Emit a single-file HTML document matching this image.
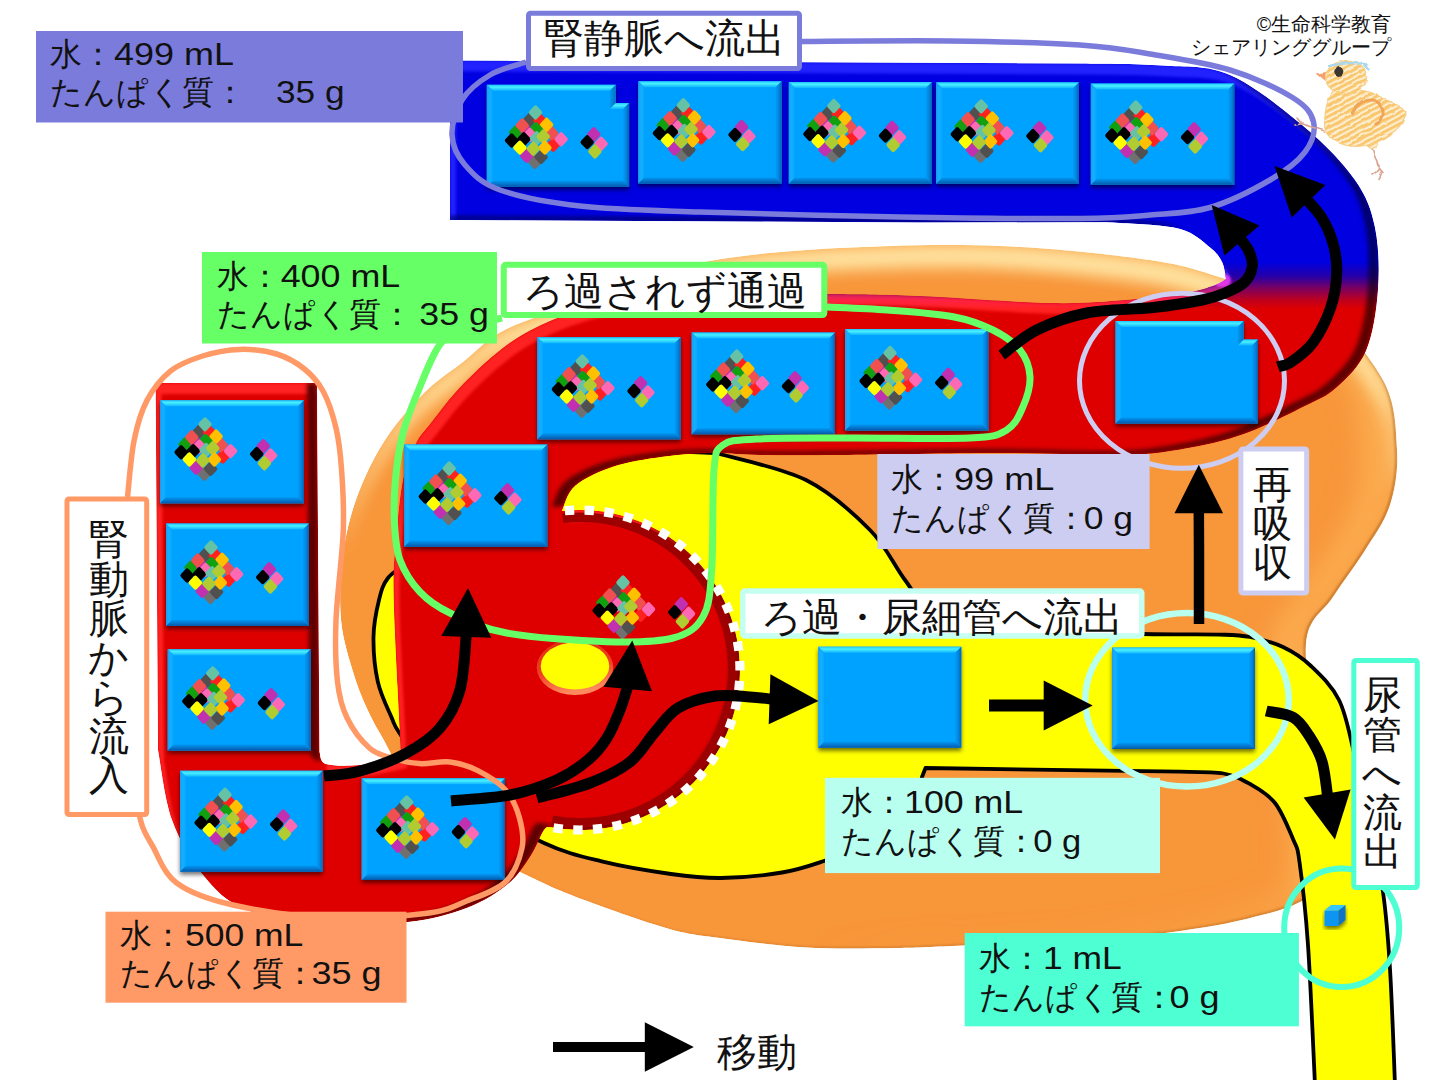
<!DOCTYPE html>
<html lang="ja"><head><meta charset="utf-8"><title>腎臓のろ過と再吸収</title>
<style>
html,body{margin:0;padding:0;background:#fff;}
body{width:1439px;height:1080px;overflow:hidden;font-family:"Liberation Sans",sans-serif;}
svg{display:block;}
text{font-family:"Liberation Sans",sans-serif;fill:#111;}
</style></head>
<body>
<svg width="1439" height="1080" viewBox="0 0 1439 1080">
<defs>
<linearGradient id="vg" gradientUnits="userSpaceOnUse" x1="0" y1="262" x2="0" y2="309"><stop offset="0" stop-color="#0000E0"/><stop offset="0.3" stop-color="#2400A8"/><stop offset="0.55" stop-color="#780062"/><stop offset="0.8" stop-color="#BC0020"/><stop offset="1" stop-color="#DE0000"/></linearGradient>
<linearGradient id="bt" gradientUnits="userSpaceOnUse" x1="0" y1="0" x2="0" y2="6"><stop offset="0" stop-color="#22C4FF"/><stop offset="0.4" stop-color="#48F0FF"/><stop offset="1" stop-color="#10B4FF"/></linearGradient>
<linearGradient id="bl" gradientUnits="userSpaceOnUse" x1="0" y1="0" x2="6" y2="0"><stop offset="0" stop-color="#1E9CF0"/><stop offset="0.5" stop-color="#14B0FF"/><stop offset="1" stop-color="#04A6FF"/></linearGradient>
<linearGradient id="br" gradientUnits="userSpaceOnUse" x1="0" y1="0" x2="-6" y2="0"><stop offset="0" stop-color="#0462B4"/><stop offset="0.5" stop-color="#0486E0"/><stop offset="1" stop-color="#029CF6"/></linearGradient>
<linearGradient id="brn" gradientUnits="userSpaceOnUse" x1="0" y1="0" x2="-6" y2="0"><stop offset="0" stop-color="#0470C4"/><stop offset="1" stop-color="#0298F2"/></linearGradient>
<linearGradient id="bb" gradientUnits="userSpaceOnUse" x1="0" y1="0" x2="0" y2="-6"><stop offset="0" stop-color="#0458A8"/><stop offset="0.5" stop-color="#0478D0"/><stop offset="1" stop-color="#0296F0"/></linearGradient>
<linearGradient id="ovg" x1="0" y1="0" x2="0.25" y2="1"><stop offset="0" stop-color="#E02A10"/><stop offset="0.6" stop-color="#F04020"/><stop offset="1" stop-color="#FF8A5E"/></linearGradient>
<linearGradient id="og" gradientUnits="userSpaceOnUse" x1="0" y1="245" x2="0" y2="950"><stop offset="0" stop-color="#F99A3C"/><stop offset="1" stop-color="#F8963A"/></linearGradient>
<filter id="bevel" filterUnits="userSpaceOnUse" x="0" y="0" width="1439" height="1080" color-interpolation-filters="sRGB">
<feOffset in="SourceAlpha" dx="-10.5" dy="-4" result="o1"/>
<feComposite in="SourceAlpha" in2="o1" operator="out" result="m1"/>
<feGaussianBlur in="m1" stdDeviation="2" result="mb1"/>
<feComponentTransfer in="SourceGraphic" result="dark"><feFuncR type="linear" slope="0.42"/><feFuncG type="linear" slope="0.42"/><feFuncB type="linear" slope="0.48"/></feComponentTransfer>
<feComposite in="dark" in2="mb1" operator="in" result="shade"/>
<feOffset in="SourceAlpha" dx="5.5" dy="10.5" result="o2"/>
<feComposite in="SourceAlpha" in2="o2" operator="out" result="m2"/>
<feGaussianBlur in="m2" stdDeviation="1.6" result="mb2"/>
<feComponentTransfer in="SourceGraphic" result="bright"><feFuncR type="linear" slope="1.15" intercept="0.135"/><feFuncG type="linear" slope="1.15" intercept="0.135"/><feFuncB type="linear" slope="1.15" intercept="0.135"/></feComponentTransfer>
<feComposite in="bright" in2="mb2" operator="in" result="hi"/>
<feMerge result="mm"><feMergeNode in="SourceGraphic"/><feMergeNode in="hi"/><feMergeNode in="shade"/></feMerge>
<feComposite in="mm" in2="SourceAlpha" operator="in"/>
</filter>
<filter id="obevel" filterUnits="userSpaceOnUse" x="0" y="0" width="1439" height="1080" color-interpolation-filters="sRGB">
<feOffset in="SourceAlpha" dx="-4" dy="22" result="o2"/>
<feComposite in="SourceAlpha" in2="o2" operator="out" result="m2"/>
<feGaussianBlur in="m2" stdDeviation="8" result="mb2"/>
<feFlood flood-color="#FFE9A8" flood-opacity="1"/><feComposite in2="mb2" operator="in" result="hi"/>
<feOffset in="SourceAlpha" dx="-34" dy="0" result="o3"/>
<feComposite in="SourceAlpha" in2="o3" operator="out" result="m3"/>
<feGaussianBlur in="m3" stdDeviation="14" result="mb3"/>
<feFlood flood-color="#FFC266" flood-opacity="0.55"/><feComposite in2="mb3" operator="in" result="hi2"/>
<feOffset in="SourceAlpha" dx="-1.6" dy="-1.2" result="o1"/>
<feComposite in="SourceAlpha" in2="o1" operator="out" result="m1"/>
<feGaussianBlur in="m1" stdDeviation="0.8" result="mb1"/>
<feFlood flood-color="#8A4A10" flood-opacity="0.55"/><feComposite in2="mb1" operator="in" result="shade"/>
<feMerge result="mm"><feMergeNode in="SourceGraphic"/><feMergeNode in="hi2"/><feMergeNode in="hi"/><feMergeNode in="shade"/></feMerge>
<feComposite in="mm" in2="SourceAlpha" operator="in"/>
</filter>
<filter id="bshadow" x="-10%" y="-10%" width="120%" height="125%"><feDropShadow dx="0" dy="3" stdDeviation="2.2" flood-color="#000" flood-opacity="0.55"/></filter>
<filter id="soft" x="-20%" y="-20%" width="140%" height="140%"><feGaussianBlur stdDeviation="1.2"/></filter>
<filter id="rough" x="-10%" y="-10%" width="120%" height="120%"><feTurbulence type="fractalNoise" baseFrequency="0.09" numOctaves="2" seed="4" result="n"/><feDisplacementMap in="SourceGraphic" in2="n" scale="3.5" xChannelSelector="R" yChannelSelector="G"/></filter>
<pattern id="scrib" width="5" height="5" patternUnits="userSpaceOnUse" patternTransform="rotate(-28)"><rect width="5" height="5" fill="#FDEED0"/><rect width="5" height="2.8" fill="#F9C66C"/></pattern>
<clipPath id="vclip"><path d="M155.6,383 L317,383 L319.5,752 C320.6,754.0 319.2,761.8 326.0,764.0 C332.8,766.2 347.5,766.2 360.0,765.0 C372.5,763.8 394.2,758.3 401.0,757.0 C400.4,745.3 398.8,714.8 397.5,687.0 C396.2,659.2 393.8,614.5 393.5,590.0 C393.2,565.5 394.4,558.3 396.0,540.0 C397.6,521.7 399.7,496.0 403.0,480.0 C406.3,464.0 411.1,453.3 415.6,444.0 C420.1,434.7 422.1,434.0 430.0,424.0 C437.9,414.0 450.0,397.3 463.0,384.0 C476.0,370.7 493.2,354.7 508.0,344.0 C522.8,333.3 536.7,326.5 552.0,320.0 C567.3,313.5 583.7,308.7 600.0,305.0 C616.3,301.3 633.3,299.7 650.0,298.0 C666.7,296.3 670.0,295.7 700.0,295.0 C730.0,294.3 793.3,293.8 830.0,294.0 C866.7,294.2 883.3,294.5 920.0,296.0 C956.7,297.5 1015.8,302.3 1050.0,303.0 C1084.2,303.7 1102.5,301.7 1125.0,300.0 C1147.5,298.3 1170.0,295.5 1185.0,293.0 C1200.0,290.5 1208.2,287.3 1215.0,285.0 C1221.8,282.7 1224.2,280.0 1226.0,279.0 C1225.3,276.2 1224.7,267.2 1222.0,262.0 C1219.3,256.8 1217.0,253.0 1210.0,247.5 C1203.0,242.0 1195.0,233.1 1180.0,229.0 C1165.0,224.9 1136.7,224.1 1120.0,223.0 C1103.3,221.9 1086.7,222.4 1080.0,222.3 L920,222.5 L450,220 L450,60.5 L1080,63.5 C1093.7,63.8 1137.0,63.6 1162.0,65.5 C1187.0,67.4 1206.2,64.7 1230.0,75.0 C1253.8,85.3 1284.2,110.0 1305.0,127.5 C1325.8,145.0 1343.3,163.3 1355.0,180.0 C1366.7,196.7 1371.2,209.2 1375.0,227.5 C1378.8,245.8 1379.5,269.4 1378.0,290.0 C1376.5,310.6 1373.0,334.7 1366.0,351.0 C1359.0,367.3 1346.2,378.8 1336.0,388.0 C1325.8,397.2 1320.3,398.3 1305.0,406.0 C1289.7,413.7 1264.3,426.8 1244.0,434.0 C1223.7,441.2 1203.3,445.5 1183.0,449.0 C1162.7,452.5 1152.5,454.3 1122.0,455.0 C1091.5,455.7 1047.0,453.0 1000.0,453.0 C953.0,453.0 880.0,454.7 840.0,455.0 C800.0,455.3 781.2,455.3 760.0,455.0 C738.8,454.7 729.2,452.7 713.0,453.0 C696.8,453.3 679.7,454.4 663.0,456.7 C646.3,459.0 627.7,461.8 613.0,466.7 C598.3,471.6 583.5,478.6 575.0,486.0 C566.5,493.4 564.1,506.9 561.9,511.0 A160,160 0 1 1 550.8,827.3 C549.7,827.8 547.4,825.2 544.0,830.0 C540.6,834.8 536.6,847.0 530.6,856.0 C524.6,865.0 518.6,875.3 508.0,884.0 C497.4,892.7 483.4,901.7 466.7,908.0 C450.0,914.3 430.8,919.5 408.0,922.0 C385.2,924.5 356.8,925.0 330.0,923.0 C303.2,921.0 268.2,918.0 247.0,910.0 C225.8,902.0 215.5,890.0 203.0,875.0 C190.5,860.0 179.5,840.8 172.0,820.0 C164.5,799.2 160.3,761.7 158.0,750.0 L155.6,383 Z"/></clipPath>
<g id="prot" transform="scale(1,1.06)"><rect x="39.1" y="64.1" width="10.6" height="10.6" rx="2" fill="#707070" transform="rotate(45 44.4 69.4)"/><rect x="45.3" y="59.4" width="10.6" height="10.6" rx="2" fill="#505050" transform="rotate(45 50.6 64.7)"/><rect x="30.8" y="58.3" width="10.6" height="10.6" rx="2" fill="#C030B0" transform="rotate(45 36.1 63.6)"/><rect x="57.5" y="47.8" width="10.6" height="10.6" rx="2" fill="#FF2020" transform="rotate(45 62.8 53.1)"/><rect x="65.3" y="42.6" width="10.6" height="10.6" rx="2" fill="#FF69B4" transform="rotate(45 70.6 47.9)"/><rect x="55.8" y="36.9" width="10.6" height="10.6" rx="2" fill="#F05050" transform="rotate(45 61.1 42.2)"/><rect x="34.1" y="24.2" width="10.6" height="10.6" rx="2" fill="#505050" transform="rotate(45 39.4 29.5)"/><rect x="44.1" y="24.8" width="10.6" height="10.6" rx="2" fill="#FF2020" transform="rotate(45 49.4 30.1)"/><rect x="50.8" y="28.9" width="10.6" height="10.6" rx="2" fill="#FFC000" transform="rotate(45 56.1 34.2)"/><rect x="19.7" y="36.3" width="10.6" height="10.6" rx="2" fill="#10A010" transform="rotate(45 25.0 41.6)"/><rect x="31.4" y="35.7" width="10.6" height="10.6" rx="2" fill="#C030B0" transform="rotate(45 36.7 41.0)"/><rect x="40.3" y="33.2" width="10.6" height="10.6" rx="2" fill="#10A010" transform="rotate(45 45.6 38.5)"/><rect x="26.4" y="29.5" width="10.6" height="10.6" rx="2" fill="#F05050" transform="rotate(45 31.7 34.8)"/><rect x="34.1" y="38.4" width="10.6" height="10.6" rx="2" fill="#FF69B4" transform="rotate(45 39.4 43.7)"/><rect x="15.8" y="43.7" width="10.6" height="10.6" rx="2" fill="#000" transform="rotate(45 21.1 49.0)"/><rect x="28.0" y="42.6" width="10.6" height="10.6" rx="2" fill="#000" transform="rotate(45 33.3 47.9)"/><rect x="40.8" y="41.6" width="10.6" height="10.6" rx="2" fill="#66C2A5" transform="rotate(45 46.1 46.9)"/><rect x="47.5" y="40.0" width="10.6" height="10.6" rx="2" fill="#B0CC30" transform="rotate(45 52.8 45.3)"/><rect x="24.1" y="50.5" width="10.6" height="10.6" rx="2" fill="#FFFF00" transform="rotate(45 29.4 55.8)"/><rect x="49.1" y="50.5" width="10.6" height="10.6" rx="2" fill="#FFC000" transform="rotate(45 54.4 55.8)"/><rect x="37.5" y="51.5" width="10.6" height="10.6" rx="2" fill="#B0CC30" transform="rotate(45 42.8 56.8)"/><rect x="39.7" y="17.4" width="10.6" height="10.6" rx="2" fill="#66C2A5" transform="rotate(45 45.0 22.7)"/><rect x="98.0" y="37.9" width="10.6" height="10.6" rx="2" fill="#C030B0" transform="rotate(45 103.3 43.2)"/><rect x="91.4" y="45.3" width="10.6" height="10.6" rx="2" fill="#000" transform="rotate(45 96.7 50.6)"/><rect x="105.3" y="46.8" width="10.6" height="10.6" rx="2" fill="#FF69B4" transform="rotate(45 110.6 52.1)"/><rect x="99.1" y="54.1" width="10.6" height="10.6" rx="2" fill="#B0CC30" transform="rotate(45 104.4 59.4)"/></g>
</defs>
<rect width="1439" height="1080" fill="#fff"/>
<path d="M341.0,620.0 C339.2,600.0 340.3,575.5 343.0,555.0 C345.7,534.5 350.0,516.2 357.0,497.0 C364.0,477.8 373.7,457.5 385.0,440.0 C396.3,422.5 412.0,405.0 425.0,392.0 C438.0,379.0 450.7,371.8 463.0,362.0 C475.3,352.2 484.5,341.3 499.0,333.0 C513.5,324.7 533.2,318.3 550.0,312.0 C566.8,305.7 583.3,300.7 600.0,295.0 C616.7,289.3 633.3,283.3 650.0,278.0 C666.7,272.7 681.7,267.0 700.0,263.0 C718.3,259.0 736.7,256.5 760.0,254.0 C783.3,251.5 808.3,249.5 840.0,248.0 C871.7,246.5 915.0,244.8 950.0,245.0 C985.0,245.2 1014.7,246.2 1050.0,249.0 C1085.3,251.8 1132.7,257.0 1162.0,262.0 C1191.3,267.0 1199.7,271.0 1226.0,279.0 C1252.3,287.0 1293.8,293.2 1320.0,310.0 C1346.2,326.8 1370.2,356.8 1383.0,380.0 C1395.8,403.2 1395.8,428.2 1397.0,449.0 C1398.2,469.8 1395.5,487.8 1390.0,505.0 C1384.5,522.2 1373.5,536.7 1364.0,552.0 C1354.5,567.3 1342.7,581.7 1333.0,597.0 C1323.3,612.3 1308.2,616.8 1306.0,644.0 C1303.8,671.2 1316.8,720.7 1320.0,760.0 C1323.2,799.3 1328.3,856.3 1325.0,880.0 C1321.7,903.7 1310.8,896.1 1300.0,902.0 C1289.2,907.9 1276.7,911.2 1260.0,915.5 C1243.3,919.8 1226.7,923.9 1200.0,928.0 C1173.3,932.1 1139.3,937.1 1100.0,940.0 C1060.7,942.9 998.0,944.2 964.0,945.5 C930.0,946.8 922.3,947.7 896.0,948.0 C869.7,948.3 835.3,949.2 806.0,947.5 C776.7,945.8 742.5,941.0 720.0,938.0 C697.5,935.0 690.0,934.4 671.0,929.4 C652.0,924.4 624.5,914.5 606.0,908.0 C587.5,901.5 574.3,896.6 560.0,890.6 C545.7,884.6 540.0,881.3 520.0,872.0 C500.0,862.7 459.2,848.7 440.0,835.0 C420.8,821.3 413.3,803.8 405.0,790.0 C396.7,776.2 395.8,764.5 390.0,752.0 C384.2,739.5 376.0,727.8 370.0,715.0 C364.0,702.2 358.8,690.8 354.0,675.0 C349.2,659.2 342.8,640.0 341.0,620.0 Z" fill="#F8963A" filter="url(#obevel)"/>
<path d="M716,453 C731.0,457.5 780.3,467.2 806.0,480.0 C831.7,492.8 853.5,513.3 870.0,530.0 C886.5,546.7 894.2,565.8 905.0,580.0 C915.8,594.2 919.2,606.7 935.0,615.0 C950.8,623.3 965.3,626.8 1000.0,630.0 C1034.7,633.2 1106.5,633.2 1143.0,634.0 C1179.5,634.8 1201.2,634.1 1219.0,634.6 C1236.8,635.1 1239.3,634.9 1250.0,637.0 C1260.7,639.1 1272.8,642.2 1283.0,647.0 C1293.2,651.8 1301.7,657.2 1311.0,666.0 C1320.3,674.8 1331.8,685.5 1339.0,700.0 C1346.2,714.5 1348.8,731.3 1354.0,753.0 C1359.2,774.7 1365.2,806.8 1370.0,830.0 C1374.8,853.2 1379.7,868.8 1383.0,892.0 C1386.3,915.2 1388.0,936.8 1390.0,969.0 C1392.0,1001.2 1394.2,1065.7 1395.0,1085.0 L1315,1085 C1313.8,1061.7 1310.6,982.2 1308.0,945.0 C1305.4,907.8 1302.0,879.7 1299.5,862.0 C1297.0,844.3 1297.1,848.8 1293.0,839.0 C1288.9,829.2 1282.2,812.2 1275.0,803.0 C1267.8,793.8 1258.6,788.9 1250.0,784.0 C1241.4,779.1 1235.1,775.5 1223.4,773.5 C1211.7,771.5 1187.2,772.0 1180.0,771.7 L925.5,768 L922,777 C921.3,779.2 921.7,782.5 918.0,790.0 C914.3,797.5 909.0,812.8 900.0,822.0 C891.0,831.2 876.7,838.5 864.0,845.0 C851.3,851.5 837.7,856.4 824.0,861.0 C810.3,865.6 799.2,869.7 782.0,872.5 C764.8,875.3 739.5,877.8 721.0,878.0 C702.5,878.2 690.9,876.8 671.0,874.0 C651.1,871.2 622.9,866.6 601.7,861.4 C580.5,856.2 566.0,853.2 544.0,843.0 C522.0,832.8 490.7,813.8 470.0,800.0 C449.3,786.2 431.9,771.4 420.0,760.0 C408.1,748.6 403.3,738.7 398.6,731.7 C393.9,724.7 395.2,726.1 391.7,717.8 C388.2,709.5 380.8,695.2 377.8,681.7 C374.8,668.2 373.3,650.6 373.5,637.0 C373.7,623.4 376.6,609.8 379.0,600.0 C381.4,590.2 382.8,584.7 388.0,578.0 C393.2,571.3 399.7,569.7 410.0,560.0 C420.3,550.3 431.7,535.0 450.0,520.0 C468.3,505.0 491.7,481.3 520.0,470.0 C548.3,458.7 587.3,454.8 620.0,452.0 C652.7,449.2 700.0,452.8 716.0,453.0 Z" fill="#FFFF00" stroke="#000" stroke-width="3.8" stroke-linejoin="round"/>
<g filter="url(#bevel)"><path d="M155.6,383 L317,383 L319.5,752 C320.6,754.0 319.2,761.8 326.0,764.0 C332.8,766.2 347.5,766.2 360.0,765.0 C372.5,763.8 394.2,758.3 401.0,757.0 C400.4,745.3 398.8,714.8 397.5,687.0 C396.2,659.2 393.8,614.5 393.5,590.0 C393.2,565.5 394.4,558.3 396.0,540.0 C397.6,521.7 399.7,496.0 403.0,480.0 C406.3,464.0 411.1,453.3 415.6,444.0 C420.1,434.7 422.1,434.0 430.0,424.0 C437.9,414.0 450.0,397.3 463.0,384.0 C476.0,370.7 493.2,354.7 508.0,344.0 C522.8,333.3 536.7,326.5 552.0,320.0 C567.3,313.5 583.7,308.7 600.0,305.0 C616.3,301.3 633.3,299.7 650.0,298.0 C666.7,296.3 670.0,295.7 700.0,295.0 C730.0,294.3 793.3,293.8 830.0,294.0 C866.7,294.2 883.3,294.5 920.0,296.0 C956.7,297.5 1015.8,302.3 1050.0,303.0 C1084.2,303.7 1102.5,301.7 1125.0,300.0 C1147.5,298.3 1170.0,295.5 1185.0,293.0 C1200.0,290.5 1208.2,287.3 1215.0,285.0 C1221.8,282.7 1224.2,280.0 1226.0,279.0 C1225.3,276.2 1224.7,267.2 1222.0,262.0 C1219.3,256.8 1217.0,253.0 1210.0,247.5 C1203.0,242.0 1195.0,233.1 1180.0,229.0 C1165.0,224.9 1136.7,224.1 1120.0,223.0 C1103.3,221.9 1086.7,222.4 1080.0,222.3 L920,222.5 L450,220 L450,60.5 L1080,63.5 C1093.7,63.8 1137.0,63.6 1162.0,65.5 C1187.0,67.4 1206.2,64.7 1230.0,75.0 C1253.8,85.3 1284.2,110.0 1305.0,127.5 C1325.8,145.0 1343.3,163.3 1355.0,180.0 C1366.7,196.7 1371.2,209.2 1375.0,227.5 C1378.8,245.8 1379.5,269.4 1378.0,290.0 C1376.5,310.6 1373.0,334.7 1366.0,351.0 C1359.0,367.3 1346.2,378.8 1336.0,388.0 C1325.8,397.2 1320.3,398.3 1305.0,406.0 C1289.7,413.7 1264.3,426.8 1244.0,434.0 C1223.7,441.2 1203.3,445.5 1183.0,449.0 C1162.7,452.5 1152.5,454.3 1122.0,455.0 C1091.5,455.7 1047.0,453.0 1000.0,453.0 C953.0,453.0 880.0,454.7 840.0,455.0 C800.0,455.3 781.2,455.3 760.0,455.0 C738.8,454.7 729.2,452.7 713.0,453.0 C696.8,453.3 679.7,454.4 663.0,456.7 C646.3,459.0 627.7,461.8 613.0,466.7 C598.3,471.6 583.5,478.6 575.0,486.0 C566.5,493.4 564.1,506.9 561.9,511.0 A160,160 0 1 1 550.8,827.3 C549.7,827.8 547.4,825.2 544.0,830.0 C540.6,834.8 536.6,847.0 530.6,856.0 C524.6,865.0 518.6,875.3 508.0,884.0 C497.4,892.7 483.4,901.7 466.7,908.0 C450.0,914.3 430.8,919.5 408.0,922.0 C385.2,924.5 356.8,925.0 330.0,923.0 C303.2,921.0 268.2,918.0 247.0,910.0 C225.8,902.0 215.5,890.0 203.0,875.0 C190.5,860.0 179.5,840.8 172.0,820.0 C164.5,799.2 160.3,761.7 158.0,750.0 L155.6,383 Z" fill="url(#vg)"/></g>
<ellipse cx="1222" cy="280" rx="9" ry="7" fill="#FF40FF" opacity="0.75" filter="url(#soft)" clip-path="url(#vclip)"/>
<path d="M562.7,518.2 A152.8,152.8 0 1 1 552.2,820.2" fill="none" stroke="#9C0000" stroke-width="9.5"/>
<path d="M561.9,511.0 A160,160 0 1 1 550.8,827.3" fill="none" stroke="#fff" stroke-width="9.2" stroke-dasharray="9.4 10.4" stroke-dashoffset="-3"/>
<ellipse cx="575" cy="667.3" rx="38.3" ry="27.8" fill="url(#ovg)"/>
<ellipse cx="575" cy="666" rx="34.3" ry="23.6" fill="#FFFF00"/>
<g transform="translate(638.3,81.2)"><rect width="143.3" height="102.3" fill="#00A2FF" filter="url(#bshadow)"/><path d="M0,0 H143.3 l-6.0,6.0 H6.0 Z" fill="url(#bt)"/><path d="M0,0 l6.0,6.0 V96.3 L0,102.3 Z" fill="url(#bl)"/><g transform="translate(143.3,0)"><path d="M0,0 l-6.0,6.0 V96.3 L0,102.3 Z" fill="url(#br)"/></g><g transform="translate(0,102.3)"><path d="M0,0 l6.0,-6.0 H137.3 L143.3,0 Z" fill="url(#bb)"/></g><use href="#prot"/></g>
<g transform="translate(788.8,82.0)"><rect width="143.2" height="101.8" fill="#00A2FF" filter="url(#bshadow)"/><path d="M0,0 H143.2 l-6.0,6.0 H6.0 Z" fill="url(#bt)"/><path d="M0,0 l6.0,6.0 V95.8 L0,101.8 Z" fill="url(#bl)"/><g transform="translate(143.2,0)"><path d="M0,0 l-6.0,6.0 V95.8 L0,101.8 Z" fill="url(#br)"/></g><g transform="translate(0,101.8)"><path d="M0,0 l6.0,-6.0 H137.2 L143.2,0 Z" fill="url(#bb)"/></g><use href="#prot"/></g>
<g transform="translate(936.2,82.3)"><rect width="142.8" height="101.5" fill="#00A2FF" filter="url(#bshadow)"/><path d="M0,0 H142.8 l-6.0,6.0 H6.0 Z" fill="url(#bt)"/><path d="M0,0 l6.0,6.0 V95.5 L0,101.5 Z" fill="url(#bl)"/><g transform="translate(142.8,0)"><path d="M0,0 l-6.0,6.0 V95.5 L0,101.5 Z" fill="url(#br)"/></g><g transform="translate(0,101.5)"><path d="M0,0 l6.0,-6.0 H136.8 L142.8,0 Z" fill="url(#bb)"/></g><use href="#prot"/></g>
<g transform="translate(1090.8,83.5)"><rect width="143.5" height="101.3" fill="#00A2FF" filter="url(#bshadow)"/><path d="M0,0 H143.5 l-6.0,6.0 H6.0 Z" fill="url(#bt)"/><path d="M0,0 l6.0,6.0 V95.3 L0,101.3 Z" fill="url(#bl)"/><g transform="translate(143.5,0)"><path d="M0,0 l-6.0,6.0 V95.3 L0,101.3 Z" fill="url(#br)"/></g><g transform="translate(0,101.3)"><path d="M0,0 l6.0,-6.0 H137.5 L143.5,0 Z" fill="url(#bb)"/></g><use href="#prot"/></g>
<g transform="translate(537.3,337.3)"><rect width="143.4" height="102.0" fill="#00A2FF" filter="url(#bshadow)"/><path d="M0,0 H143.4 l-6.0,6.0 H6.0 Z" fill="url(#bt)"/><path d="M0,0 l6.0,6.0 V96.0 L0,102.0 Z" fill="url(#bl)"/><g transform="translate(143.4,0)"><path d="M0,0 l-6.0,6.0 V96.0 L0,102.0 Z" fill="url(#br)"/></g><g transform="translate(0,102.0)"><path d="M0,0 l6.0,-6.0 H137.4 L143.4,0 Z" fill="url(#bb)"/></g><use href="#prot"/></g>
<g transform="translate(691.7,332.5)"><rect width="143.3" height="101.7" fill="#00A2FF" filter="url(#bshadow)"/><path d="M0,0 H143.3 l-6.0,6.0 H6.0 Z" fill="url(#bt)"/><path d="M0,0 l6.0,6.0 V95.7 L0,101.7 Z" fill="url(#bl)"/><g transform="translate(143.3,0)"><path d="M0,0 l-6.0,6.0 V95.7 L0,101.7 Z" fill="url(#br)"/></g><g transform="translate(0,101.7)"><path d="M0,0 l6.0,-6.0 H137.3 L143.3,0 Z" fill="url(#bb)"/></g><use href="#prot"/></g>
<g transform="translate(845.0,329.0)"><rect width="143.5" height="101.5" fill="#00A2FF" filter="url(#bshadow)"/><path d="M0,0 H143.5 l-6.0,6.0 H6.0 Z" fill="url(#bt)"/><path d="M0,0 l6.0,6.0 V95.5 L0,101.5 Z" fill="url(#bl)"/><g transform="translate(143.5,0)"><path d="M0,0 l-6.0,6.0 V95.5 L0,101.5 Z" fill="url(#br)"/></g><g transform="translate(0,101.5)"><path d="M0,0 l6.0,-6.0 H137.5 L143.5,0 Z" fill="url(#bb)"/></g><use href="#prot"/></g>
<g transform="translate(404.2,444.5)"><rect width="143.2" height="102.2" fill="#00A2FF" filter="url(#bshadow)"/><path d="M0,0 H143.2 l-6.0,6.0 H6.0 Z" fill="url(#bt)"/><path d="M0,0 l6.0,6.0 V96.2 L0,102.2 Z" fill="url(#bl)"/><g transform="translate(143.2,0)"><path d="M0,0 l-6.0,6.0 V96.2 L0,102.2 Z" fill="url(#br)"/></g><g transform="translate(0,102.2)"><path d="M0,0 l6.0,-6.0 H137.2 L143.2,0 Z" fill="url(#bb)"/></g><use href="#prot"/></g>
<g transform="translate(160.0,400.3)"><rect width="144.0" height="103.0" fill="#00A2FF" filter="url(#bshadow)"/><path d="M0,0 H144.0 l-6.0,6.0 H6.0 Z" fill="url(#bt)"/><path d="M0,0 l6.0,6.0 V97.0 L0,103.0 Z" fill="url(#bl)"/><g transform="translate(144.0,0)"><path d="M0,0 l-6.0,6.0 V97.0 L0,103.0 Z" fill="url(#br)"/></g><g transform="translate(0,103.0)"><path d="M0,0 l6.0,-6.0 H138.0 L144.0,0 Z" fill="url(#bb)"/></g><use href="#prot"/></g>
<g transform="translate(166.0,523.5)"><rect width="143.0" height="102.5" fill="#00A2FF" filter="url(#bshadow)"/><path d="M0,0 H143.0 l-6.0,6.0 H6.0 Z" fill="url(#bt)"/><path d="M0,0 l6.0,6.0 V96.5 L0,102.5 Z" fill="url(#bl)"/><g transform="translate(143.0,0)"><path d="M0,0 l-6.0,6.0 V96.5 L0,102.5 Z" fill="url(#br)"/></g><g transform="translate(0,102.5)"><path d="M0,0 l6.0,-6.0 H137.0 L143.0,0 Z" fill="url(#bb)"/></g><use href="#prot"/></g>
<g transform="translate(167.7,649.3)"><rect width="143.0" height="101.2" fill="#00A2FF" filter="url(#bshadow)"/><path d="M0,0 H143.0 l-6.0,6.0 H6.0 Z" fill="url(#bt)"/><path d="M0,0 l6.0,6.0 V95.2 L0,101.2 Z" fill="url(#bl)"/><g transform="translate(143.0,0)"><path d="M0,0 l-6.0,6.0 V95.2 L0,101.2 Z" fill="url(#br)"/></g><g transform="translate(0,101.2)"><path d="M0,0 l6.0,-6.0 H137.0 L143.0,0 Z" fill="url(#bb)"/></g><use href="#prot"/></g>
<g transform="translate(180.0,770.7)"><rect width="142.7" height="101.0" fill="#00A2FF" filter="url(#bshadow)"/><path d="M0,0 H142.7 l-6.0,6.0 H6.0 Z" fill="url(#bt)"/><path d="M0,0 l6.0,6.0 V95.0 L0,101.0 Z" fill="url(#bl)"/><g transform="translate(142.7,0)"><path d="M0,0 l-6.0,6.0 V95.0 L0,101.0 Z" fill="url(#br)"/></g><g transform="translate(0,101.0)"><path d="M0,0 l6.0,-6.0 H136.7 L142.7,0 Z" fill="url(#bb)"/></g><use href="#prot"/></g>
<g transform="translate(361.7,778.3)"><rect width="143.3" height="101.7" fill="#00A2FF" filter="url(#bshadow)"/><path d="M0,0 H143.3 l-6.0,6.0 H6.0 Z" fill="url(#bt)"/><path d="M0,0 l6.0,6.0 V95.7 L0,101.7 Z" fill="url(#bl)"/><g transform="translate(143.3,0)"><path d="M0,0 l-6.0,6.0 V95.7 L0,101.7 Z" fill="url(#br)"/></g><g transform="translate(0,101.7)"><path d="M0,0 l6.0,-6.0 H137.3 L143.3,0 Z" fill="url(#bb)"/></g><use href="#prot"/></g>
<g transform="translate(818.3,646.7)"><rect width="143.0" height="101.1" fill="#00A2FF" filter="url(#bshadow)"/><path d="M0,0 H143.0 l-6.0,6.0 H6.0 Z" fill="url(#bt)"/><path d="M0,0 l6.0,6.0 V95.1 L0,101.1 Z" fill="url(#bl)"/><g transform="translate(143.0,0)"><path d="M0,0 l-6.0,6.0 V95.1 L0,101.1 Z" fill="url(#br)"/></g><g transform="translate(0,101.1)"><path d="M0,0 l6.0,-6.0 H137.0 L143.0,0 Z" fill="url(#bb)"/></g></g>
<g transform="translate(1112.0,647.6)"><rect width="143.0" height="101.4" fill="#00A2FF" filter="url(#bshadow)"/><path d="M0,0 H143.0 l-6.0,6.0 H6.0 Z" fill="url(#bt)"/><path d="M0,0 l6.0,6.0 V95.4 L0,101.4 Z" fill="url(#bl)"/><g transform="translate(143.0,0)"><path d="M0,0 l-6.0,6.0 V95.4 L0,101.4 Z" fill="url(#br)"/></g><g transform="translate(0,101.4)"><path d="M0,0 l6.0,-6.0 H137.0 L143.0,0 Z" fill="url(#bb)"/></g></g>
<g transform="translate(486.8,84.8)"><path d="M0,0 H129.0 V18.1 H142.3 V101.9 H0 Z" fill="#00A2FF" filter="url(#bshadow)"/><path d="M0,0 H129.0 l-6.0,6.0 H6.0 Z" fill="url(#bt)"/><path d="M0.0,0 V18.1 l-6.0,6.0 V6.0 Z" fill="url(#brn)" transform="translate(129.0,0)"/><g transform="translate(0,18.1)"><path d="M129.0,0 H142.3 l-6.0,6.0 H123.0 Z" fill="url(#bt)"/></g><path d="M0,0 l6.0,6.0 V95.9 L0,101.9 Z" fill="url(#bl)"/><g transform="translate(142.3,0)"><path d="M0,18.1 l-6.0,6.0 V95.9 L0,101.9 Z" fill="url(#br)"/></g><g transform="translate(0,101.9)"><path d="M0,0 l6.0,-6.0 H136.3 L142.3,0 Z" fill="url(#bb)"/></g><use href="#prot" x="3.7" y="3.7"/></g>
<g transform="translate(1115.5,321.0)"><path d="M0,0 H128.3 V18.4 H142.5 V102.5 H0 Z" fill="#00A2FF" filter="url(#bshadow)"/><path d="M0,0 H128.3 l-6.0,6.0 H6.0 Z" fill="url(#bt)"/><path d="M0.0,0 V18.4 l-6.0,6.0 V6.0 Z" fill="url(#brn)" transform="translate(128.3,0)"/><g transform="translate(0,18.4)"><path d="M128.3,0 H142.5 l-6.0,6.0 H122.3 Z" fill="url(#bt)"/></g><path d="M0,0 l6.0,6.0 V96.5 L0,102.5 Z" fill="url(#bl)"/><g transform="translate(142.5,0)"><path d="M0,18.4 l-6.0,6.0 V96.5 L0,102.5 Z" fill="url(#br)"/></g><g transform="translate(0,102.5)"><path d="M0,0 l6.0,-6.0 H136.5 L142.5,0 Z" fill="url(#bb)"/></g></g>
<g transform="translate(578,558.5)"><use href="#prot"/></g>
<g transform="translate(1324.5,905)" filter="url(#bshadow)"><path d="M0,5.5 L14,5.5 L14,21 L0,21 Z" fill="#0E95F2"/><path d="M0,5.5 L6.5,0 L21,0 L14,5.5 Z" fill="#35C8FF"/><path d="M14,5.5 L21,0 L21,15 L14,21 Z" fill="#0A72C8"/></g>
<path d="M127.5,497.0 C128.6,487.7 130.8,457.1 134.0,441.0 C137.2,424.9 140.8,412.1 147.0,400.4 C153.2,388.7 161.7,378.1 171.0,370.7 C180.3,363.3 191.2,359.6 202.6,356.0 C214.0,352.4 227.2,349.7 239.6,349.4 C251.9,349.1 265.9,350.7 276.7,354.0 C287.5,357.3 296.7,362.8 304.4,369.0 C312.1,375.2 317.7,381.2 323.0,391.0 C328.3,400.8 332.9,415.0 336.0,428.0 C339.1,441.0 340.3,452.0 341.5,469.0 C342.7,486.0 344.2,504.8 343.3,530.0 C342.4,555.2 337.0,594.7 336.0,620.0 C335.0,645.3 335.7,665.4 337.5,681.7 C339.3,698.0 341.7,706.8 347.0,717.8 C352.3,728.8 361.9,741.3 369.4,748.0 C376.8,754.7 383.4,755.4 391.7,758.0 C400.0,760.6 409.7,762.9 419.4,763.6 C429.1,764.3 440.3,760.8 450.0,762.0 C459.7,763.2 468.5,765.9 477.8,770.6 C487.1,775.3 498.7,782.1 505.6,790.0 C512.5,797.9 516.7,808.1 519.4,817.8 C522.1,827.5 524.3,837.4 522.0,848.0 C519.7,858.6 514.8,872.9 505.6,881.7 C496.4,890.5 480.1,895.7 466.7,901.0 C453.3,906.3 447.8,910.8 425.0,913.6 C402.2,916.4 362.0,919.4 330.0,918.0 C298.0,916.6 258.6,910.8 233.0,905.0 C207.4,899.2 190.2,893.0 176.7,883.0 C163.2,873.0 157.6,854.2 152.0,845.0 C146.4,835.8 145.2,833.2 143.0,828.0 C140.8,822.8 139.7,816.3 139.0,814.0" fill="none" stroke="#FF9966" stroke-width="5.5"/>
<path d="M502.0,318.0 C496.7,319.3 480.2,321.8 470.0,326.0 C459.8,330.2 449.5,332.5 441.0,343.0 C432.5,353.5 425.3,374.0 419.0,389.0 C412.7,404.0 406.9,418.2 403.0,433.0 C399.1,447.8 397.0,463.0 395.6,477.8 C394.2,492.6 393.7,508.3 394.4,522.0 C395.1,535.7 395.7,548.3 400.0,560.0 C404.3,571.7 411.7,583.2 420.0,592.0 C428.3,600.8 435.6,606.2 450.0,613.0 C464.4,619.8 480.6,628.2 506.7,633.0 C532.8,637.8 579.0,640.9 606.7,641.7 C634.4,642.5 657.0,642.2 673.0,638.0 C689.0,633.8 696.5,628.0 703.0,616.7 C709.5,605.4 709.9,594.5 711.7,570.0 C713.5,545.5 712.1,490.8 714.0,470.0 C715.9,449.2 715.9,450.2 723.0,445.0 C730.1,439.8 735.5,440.2 756.7,439.0 C777.9,437.8 814.5,438.2 850.0,438.0 C885.5,437.8 943.9,439.3 970.0,438.0 C996.1,436.7 997.9,435.2 1006.7,430.0 C1015.5,424.8 1019.1,415.6 1023.0,406.7 C1026.9,397.8 1030.5,386.1 1030.0,376.7 C1029.5,367.2 1026.2,357.8 1020.0,350.0 C1013.8,342.2 1004.2,335.6 993.0,330.0 C981.8,324.4 970.7,320.0 953.0,316.7 C935.3,313.4 908.0,311.6 887.0,310.0 C866.0,308.4 837.0,307.5 827.0,307.0" fill="none" stroke="#66FF66" stroke-width="7"/>
<path d="M526.0,62.0 C520.0,64.2 500.7,68.7 490.0,75.0 C479.3,81.3 468.3,90.0 462.0,100.0 C455.7,110.0 451.5,124.2 452.0,135.0 C452.5,145.8 457.0,155.8 465.0,165.0 C473.0,174.2 480.8,183.2 500.0,190.0 C519.2,196.8 546.7,202.3 580.0,206.0 C613.3,209.7 646.7,210.2 700.0,212.0 C753.3,213.8 836.7,215.9 900.0,217.0 C963.3,218.1 1038.3,218.8 1080.0,218.5 C1121.7,218.2 1128.3,216.8 1150.0,215.0 C1171.7,213.2 1190.0,213.3 1210.0,207.5 C1230.0,201.7 1254.2,189.2 1270.0,180.0 C1285.8,170.8 1297.8,161.7 1305.0,152.0 C1312.2,142.3 1315.6,131.1 1313.5,122.0 C1311.4,112.9 1306.4,106.2 1292.5,97.5 C1278.6,88.8 1253.8,77.2 1230.0,70.0 C1206.2,62.8 1175.0,58.2 1150.0,54.0 C1125.0,49.8 1113.3,47.2 1080.0,45.0 C1046.7,42.8 996.3,41.6 950.0,41.0 C903.7,40.4 826.7,41.4 802.0,41.5" fill="none" stroke="#7B7BDC" stroke-width="5.5"/>
<ellipse cx="1182" cy="380.8" rx="102.5" ry="87.5" fill="none" stroke="#CDCDF2" stroke-width="5"/>
<ellipse cx="1187" cy="699.8" rx="101.8" ry="86.8" fill="none" stroke="#B9FFEF" stroke-width="6.5"/>
<ellipse cx="1341.7" cy="927.8" rx="57.5" ry="59.2" fill="none" stroke="#4DFFD2" stroke-width="6"/>
<path d="M324.0,776.0 C330.0,775.2 346.2,774.8 360.0,771.0 C373.8,767.2 393.4,760.2 406.7,753.0 C420.0,745.8 431.1,738.5 440.0,728.0 C448.9,717.5 455.6,705.8 460.0,690.0 C464.4,674.2 465.4,642.5 466.4,633.0" fill="none" stroke="#000" stroke-width="11"/><path d="M468.0,588.0 L491.3,637.8 L441.3,636.1 Z" fill="#000"/>
<path d="M451.0,801.0 C460.8,800.0 492.4,798.5 510.0,795.0 C527.6,791.5 543.7,785.8 556.7,780.0 C569.7,774.2 579.6,767.0 588.0,760.0 C596.4,753.0 601.7,746.3 607.0,738.0 C612.3,729.7 616.5,718.8 620.0,710.0 C623.5,701.2 626.8,689.2 628.2,685.0" fill="none" stroke="#000" stroke-width="11"/><path d="M632.3,640.5 L652.0,691.2 L603.6,686.7 Z" fill="#000"/>
<path d="M537.0,798.0 C545.8,795.5 574.5,789.0 590.0,783.0 C605.5,777.0 619.2,770.5 630.0,762.0 C640.8,753.5 647.0,741.0 655.0,732.0 C663.0,723.0 668.0,714.0 678.0,708.0 C688.0,702.0 703.0,697.8 715.0,696.0 C727.0,694.2 740.2,696.4 750.0,697.0 C759.8,697.6 769.6,699.0 773.5,699.4" fill="none" stroke="#000" stroke-width="11"/><path d="M818.5,701.0 L768.7,724.3 L770.4,674.3 Z" fill="#000"/>
<path d="M989.0,705.5 C997.5,705.5 1030.2,705.5 1040.0,705.5 C1049.8,705.5 1046.4,705.5 1047.7,705.5" fill="none" stroke="#000" stroke-width="12"/><path d="M1092.7,705.5 L1043.7,730.5 L1043.7,680.5 Z" fill="#000"/>
<path d="M1266.2,711.0 C1270.7,712.1 1286.3,713.3 1293.4,717.4 C1300.5,721.5 1304.2,728.2 1309.0,735.6 C1313.8,743.0 1318.9,751.2 1322.0,761.5 C1325.1,771.8 1326.8,791.4 1327.8,797.4" fill="none" stroke="#000" stroke-width="11"/><path d="M1334.9,839.5 L1303.6,797.4 L1350.6,789.5 Z" fill="#000"/>
<path d="M1199.0,624.0 C1199.0,613.3 1199.0,579.1 1199.0,560.0 C1199.0,540.9 1198.8,517.7 1198.8,509.2" fill="none" stroke="#000" stroke-width="10.5"/><path d="M1198.8,464.7 L1223.1,513.2 L1174.5,513.2 Z" fill="#000"/>
<path d="M1001.7,355.0 C1007.5,350.8 1022.5,337.0 1036.7,330.0 C1050.9,323.0 1067.3,316.8 1086.7,313.0 C1106.1,309.2 1133.8,309.7 1153.0,307.5 C1172.2,305.3 1190.3,302.4 1202.2,300.0 C1214.1,297.6 1217.4,296.3 1224.4,293.3 C1231.4,290.3 1239.8,286.6 1244.4,282.2 C1249.0,277.8 1251.5,271.9 1252.2,266.7 C1253.0,261.5 1251.0,255.9 1248.9,251.0 C1246.8,246.1 1240.9,239.7 1239.3,237.4" fill="none" stroke="#000" stroke-width="11"/><path d="M1211.7,205.0 L1259.4,225.6 L1224.4,255.4 Z" fill="#000"/>
<path d="M1277.8,366.7 C1280.0,365.9 1285.1,366.3 1291.0,362.2 C1296.9,358.1 1306.6,351.4 1313.3,342.2 C1320.0,332.9 1327.1,318.2 1331.0,306.7 C1334.9,295.2 1336.3,283.7 1336.7,273.3 C1337.1,262.9 1335.8,253.6 1333.3,244.4 C1330.8,235.2 1326.6,225.7 1322.0,218.0 C1317.4,210.3 1308.5,201.6 1305.8,198.4" fill="none" stroke="#000" stroke-width="11"/><path d="M1274.5,166.0 L1325.3,185.1 L1291.8,217.4 Z" fill="#000"/>
<path d="M553.0,1047.0 C567.5,1047.0 624.0,1047.0 640.0,1047.0 C656.0,1047.0 647.3,1047.0 648.8,1047.0" fill="none" stroke="#000" stroke-width="10"/><path d="M693.8,1047.0 L644.8,1071.7 L644.8,1022.3 Z" fill="#000"/>
<rect x="36.0" y="31.0" width="427.0" height="91.5" fill="#7B7BDC"/><text x="50.0" y="64.7" font-size="32" text-anchor="start" >水：</text><text x="114.0" y="64.7" font-size="32" text-anchor="start" textLength="120.0" lengthAdjust="spacingAndGlyphs">499 mL</text><text x="50.0" y="103.0" font-size="32" text-anchor="start" >たんぱく質：</text><text x="276.0" y="103.0" font-size="32" text-anchor="start" textLength="68.5" lengthAdjust="spacingAndGlyphs">35 g</text>
<rect x="202.0" y="252.0" width="295.0" height="91.5" fill="#66FF66"/><text x="216.5" y="286.5" font-size="32" text-anchor="start" >水：</text><text x="280.7" y="286.5" font-size="32" text-anchor="start" textLength="119.5" lengthAdjust="spacingAndGlyphs">400 mL</text><text x="216.5" y="325.0" font-size="32" text-anchor="start" >たんぱく質：</text><text x="419.3" y="325.0" font-size="32" text-anchor="start" textLength="69.5" lengthAdjust="spacingAndGlyphs">35 g</text>
<rect x="105.5" y="911.7" width="301.0" height="91.0" fill="#FF9966"/><text x="120.0" y="945.5" font-size="32" text-anchor="start" >水：</text><text x="185.0" y="945.5" font-size="32" text-anchor="start" textLength="118.3" lengthAdjust="spacingAndGlyphs">500 mL</text><text x="120.0" y="984.0" font-size="32" text-anchor="start" >たんぱく質：</text><text x="311.5" y="984.0" font-size="32" text-anchor="start" textLength="70.0" lengthAdjust="spacingAndGlyphs">35 g</text>
<rect x="877.3" y="454.0" width="272.3" height="95.0" fill="#CDCDF2"/><text x="891.0" y="490.0" font-size="32" text-anchor="start" >水：</text><text x="954.0" y="490.0" font-size="32" text-anchor="start" textLength="100.3" lengthAdjust="spacingAndGlyphs">99 mL</text><text x="891.0" y="529.0" font-size="32" text-anchor="start" >たんぱく質：</text><text x="1083.8" y="529.0" font-size="32" text-anchor="start" textLength="49.3" lengthAdjust="spacingAndGlyphs">0 g</text>
<rect x="825.0" y="777.8" width="335.0" height="95.3" fill="#B9FFEF"/><text x="841.0" y="813.0" font-size="32" text-anchor="start" >水：</text><text x="904.0" y="813.0" font-size="32" text-anchor="start" textLength="119.2" lengthAdjust="spacingAndGlyphs">100 mL</text><text x="841.0" y="851.5" font-size="32" text-anchor="start" >たんぱく質：</text><text x="1033.3" y="851.5" font-size="32" text-anchor="start" textLength="48.0" lengthAdjust="spacingAndGlyphs">0 g</text>
<rect x="964.7" y="933.0" width="334.2" height="93.3" fill="#4DFFD2"/><text x="979.0" y="968.5" font-size="32" text-anchor="start" >水：</text><text x="1043.0" y="968.5" font-size="32" text-anchor="start" textLength="78.8" lengthAdjust="spacingAndGlyphs">1 mL</text><text x="979.0" y="1007.5" font-size="32" text-anchor="start" >たんぱく質：</text><text x="1169.5" y="1007.5" font-size="32" text-anchor="start" textLength="50.0" lengthAdjust="spacingAndGlyphs">0 g</text>
<rect x="528.5" y="13.2" width="271.0" height="55.3" rx="2" fill="#fff" stroke="#7B7BDC" stroke-width="5"/><text x="664.5" y="52.3" font-size="40.2" text-anchor="middle" >腎静脈へ流出</text>
<rect x="503.8" y="264.7" width="320.5" height="50.4" rx="2" fill="#fff" stroke="#66FF66" stroke-width="6"/><text x="665.0" y="305.0" font-size="39.5" text-anchor="middle" >ろ過されず通過</text>
<rect x="742.8" y="591.0" width="399.0" height="45.0" rx="2" fill="#fff" stroke="#C4FFF2" stroke-width="5.5"/><text x="941.5" y="631.0" font-size="39.9" text-anchor="middle" >ろ過・尿細管へ流出</text>
<rect x="67.0" y="499.0" width="79.7" height="315.5" rx="2" fill="#fff" stroke="#FF9966" stroke-width="5"/><text x="108.8" y="553.3" font-size="39.5" text-anchor="middle" >腎</text><text x="108.8" y="592.6" font-size="39.5" text-anchor="middle" >動</text><text x="108.8" y="631.9" font-size="39.5" text-anchor="middle" >脈</text><text x="108.8" y="671.2" font-size="39.5" text-anchor="middle" >か</text><text x="108.8" y="710.5" font-size="39.5" text-anchor="middle" >ら</text><text x="108.8" y="749.8" font-size="39.5" text-anchor="middle" >流</text><text x="108.8" y="789.1" font-size="39.5" text-anchor="middle" >入</text>
<rect x="1240.9" y="449.0" width="65.8" height="144.0" rx="2" fill="#fff" stroke="#CDCDF2" stroke-width="5"/><text x="1272.5" y="497.8" font-size="39" text-anchor="middle" >再</text><text x="1272.5" y="536.7" font-size="39" text-anchor="middle" >吸</text><text x="1272.5" y="575.6" font-size="39" text-anchor="middle" >収</text>
<rect x="1353.8" y="660.5" width="63.5" height="227.0" rx="2" fill="#fff" stroke="#4DFFD2" stroke-width="5"/><text x="1382.0" y="708.3" font-size="39" text-anchor="middle" >尿</text><text x="1382.0" y="747.5" font-size="39" text-anchor="middle" >管</text><text x="1382.0" y="786.7" font-size="39" text-anchor="middle" >へ</text><text x="1382.0" y="825.9" font-size="39" text-anchor="middle" >流</text><text x="1382.0" y="865.1" font-size="39" text-anchor="middle" >出</text>
<text x="717.0" y="1066.0" font-size="39.5" text-anchor="start" >移動</text>
<text x="1391.0" y="31.0" font-size="19.5" text-anchor="end" >©生命科学教育</text><text x="1391.0" y="54.0" font-size="19.5" text-anchor="end" >シェアリンググループ</text>
<g id="chick" filter="url(#rough)">
<path d="M1325,131 L1300,123.5 M1302,124 l-5,-6 M1301,124 l-6,1" fill="none" stroke="#D9A48F" stroke-width="1.6" stroke-linecap="round"/>
<path d="M1371.5,147 L1378,165.5 L1384,172.5 M1380,170 l-7,5 M1382,172 l-3,7.5" fill="none" stroke="#D9A48F" stroke-width="1.6" stroke-linecap="round"/>
<path d="M1316.5,73.5 L1326,72 L1325.5,81 Z" fill="#F4A070"/>
<ellipse cx="1372" cy="143.5" rx="5.5" ry="5" fill="url(#scrib)" stroke="#F8CE84" stroke-width="1"/>
<path d="M1333,92 C1350,86 1368,90 1383,98 C1393,103 1401,107 1407,112 C1404,125 1390,138 1372,144 C1355,149 1336,146 1328,134 C1322,122 1325,103 1333,92 Z" fill="url(#scrib)" stroke="#F8CE84" stroke-width="1.2"/>
<ellipse cx="1346" cy="77.5" rx="20.5" ry="16.5" fill="url(#scrib)" stroke="#F8CE84" stroke-width="1.2"/>
<path d="M1352,113.5 C1357,104 1364,100 1371,100 C1377,100 1381,104 1383,111 C1384,117 1381,122 1376,124" fill="none" stroke="#EFA050" stroke-width="3.2" stroke-linecap="round" opacity="0.9"/>
<path d="M1329,65.8 C1340,63 1355,62.5 1367.5,64.5 M1364,65 l4.5,4.5" fill="none" stroke="#A9D8EE" stroke-width="2.4" stroke-linecap="round"/>
<ellipse cx="1339.3" cy="71.5" rx="4" ry="4.4" fill="#3A3530"/>
</g>
</svg>
</body></html>
